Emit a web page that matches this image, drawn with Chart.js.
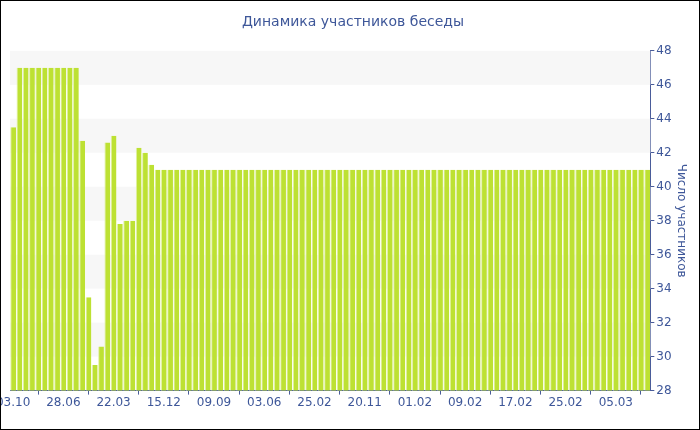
<!DOCTYPE html>
<html>
<head>
<meta charset="utf-8">
<script src="https://cdn.jsdelivr.net/npm/chart.js@4"></script>
<style>
body{
    margin:0;
    background:#fff;
}
#wrap{
    width:698px;
    height:428px;
    border:1px solid #000;
    position:relative;
}
</style>
</head>
<body>
<div id="wrap"><canvas id="membersChart"></canvas></div>
<script>

const categories = [
"03.10","05.11","08.12","10.01","12.02","18.03","20.04","24.05",
"28.06","31.07","02.09","05.10","08.11","11.12","13.01","16.02",
"22.03","24.04","27.05","29.06","01.08","03.09","06.10","08.11",
"15.12","17.01","19.02","24.03","26.04","29.05","01.07","03.08",
"09.09","12.10","14.11","17.12","19.01","21.02","26.03","28.04",
"03.06","06.07","08.08","10.09","13.10","15.11","18.12","20.01",
"25.02","30.03","02.05","04.06","07.07","09.08","11.09","14.10",
"20.11","29.11","08.12","17.12","26.12","04.01","13.01","22.01",
"01.02","02.02","03.02","04.02","05.02","06.02","07.02","08.02",
"09.02","10.02","11.02","12.02","13.02","14.02","15.02","16.02",
"17.02","18.02","19.02","20.02","21.02","22.02","23.02","24.02",
"25.02","26.02","27.02","28.02","01.03","02.03","03.03","04.03",
"05.03","06.03","07.03","08.03","09.03","10.03"
];

const members = [
43.5,47,47,47,47,47,47,47,47,47,
47,42.7,33.5,29.5,30.6,42.6,43,37.8,38,38,
42.3,42,41.3,41,41,41,41,41,41,41,
41,41,41,41,41,41,41,41,41,41,
41,41,41,41,41,41,41,41,41,41,
41,41,41,41,41,41,41,41,41,41,
41,41,41,41,41,41,41,41,41,41,
41,41,41,41,41,41,41,41,41,41,
41,41,41,41,41,41,41,41,41,41,
41,41,41,41,41,41,41,41,41,41,
41,41
];

const yMin = 28;
const yMax = 48;
const tickEvery = 8;

const textColor = "#3e5799";
const axisColor = "#4a5c9a";

// grey stripes behind the bars, every other 2-unit band
const bandsPlugin = {
    id: "bands",
    beforeDatasetsDraw(chart){
        const ctx = chart.ctx;
        const area = chart.chartArea;
        const y = chart.scales.y;
        ctx.save();
        ctx.fillStyle = "#f7f7f7";
        for(let v = yMin + 2; v < yMax; v += 4){
            const top = y.getPixelForValue(v + 2);
            const bottom = y.getPixelForValue(v);
            ctx.fillRect(area.left, top, area.right - area.left, bottom - top);
        }
        ctx.restore();
    }
};

const ctx = document.getElementById("membersChart");

new Chart(ctx, {

    type: "bar",

    data: {
        labels: categories,
        datasets: [{
            label: "Число участников",
            data: members,
            backgroundColor: "#bde133",
            borderColor: "#e2f1a6",
            borderWidth: {left: 1, right: 0, top: 0, bottom: 0},
            borderSkipped: false,
            categoryPercentage: 1,
            barPercentage: 0.92
        }]
    },

    plugins: [bandsPlugin],

    options: {
        responsive: true,
        maintainAspectRatio: false,
        animation: false,
        layout: {
            padding: {left: 9, right: 3, top: 3, bottom: 18}
        },
        plugins: {
            legend: {display: false},
            tooltip: {enabled: false},
            title: {
                display: true,
                text: "Динамика участников беседы",
                color: textColor,
                font: {family: "DejaVu Sans", size: 14, weight: "normal"},
                padding: {top: 10, bottom: 20}
            }
        },
        scales: {
            x: {
                afterBuildTicks(scale){
                    scale.ticks = scale.ticks.filter((t, i) => i % tickEvery === 0);
                },
                afterFit(scale){
                    scale.paddingLeft = 0;
                    scale.paddingRight = 0;
                },
                grid: {
                    display: true,
                    drawOnChartArea: false,
                    tickLength: 4,
                    color: axisColor
                },
                border: {color: axisColor},
                ticks: {
                    autoSkip: false,
                    maxRotation: 0,
                    padding: 1,
                    color: textColor,
                    font: {family: "DejaVu Sans", size: 12}
                }
            },
            y: {
                position: "right",
                min: yMin,
                max: yMax,
                grid: {
                    drawOnChartArea: false,
                    tickLength: 4,
                    color: axisColor
                },
                border: {color: axisColor},
                ticks: {
                    stepSize: 1,
                    padding: 2,
                    color: textColor,
                    font: {family: "DejaVu Sans", size: 12},
                    callback: (v) => v % 2 === 0 ? v : ""
                },
                title: {
                    display: true,
                    text: "Число участников",
                    color: textColor,
                    font: {family: "DejaVu Sans", size: 12},
                    padding: {top: 8, bottom: 0}
                }
            }
        }
    }
});
</script>
</body>
</html>
